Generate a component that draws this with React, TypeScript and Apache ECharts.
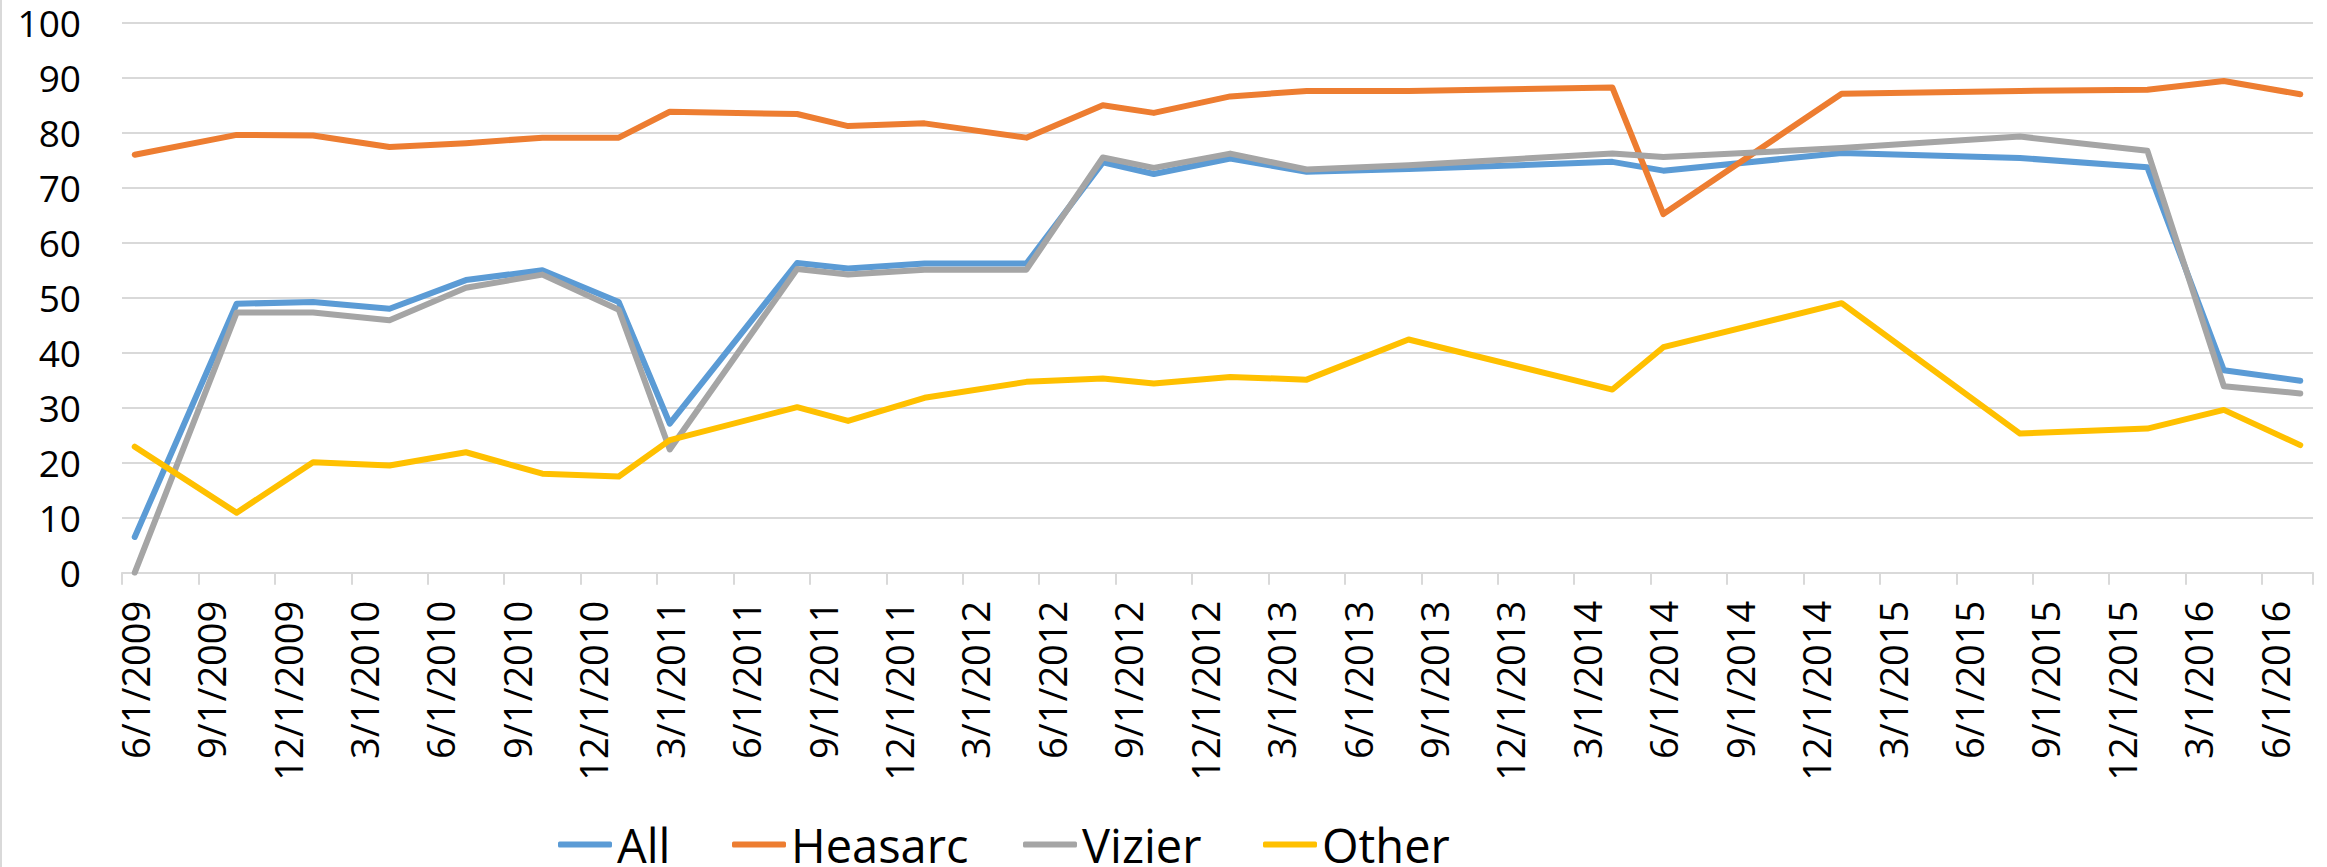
import React, { useEffect, useRef } from "react";
import * as echarts from "echarts";

// Month slots on the date axis (base unit: months), 6/2009 .. 7/2016
const AXIS_START_YEAR = 2009;
const AXIS_START_MONTH = 6;
const AXIS_MONTHS = 86;
const categories: string[] = [];
for (let i = 0; i < AXIS_MONTHS; i++) {
  const k = AXIS_START_MONTH - 1 + i;
  categories.push(`${(k % 12) + 1}/1/${AXIS_START_YEAR + Math.floor(k / 12)}`);
}

// Observation dates
const dates = [
  "6/1/2009", "10/1/2009", "1/1/2010", "4/1/2010", "7/1/2010", "10/1/2010",
  "1/1/2011", "3/1/2011", "8/1/2011", "10/1/2011", "1/1/2012", "5/1/2012",
  "8/1/2012", "10/1/2012", "1/1/2013", "4/1/2013", "8/1/2013", "4/1/2014",
  "6/1/2014", "1/1/2015", "8/1/2015", "1/1/2016", "4/1/2016", "7/1/2016",
];

const allValues = [
  6.5, 48.9, 49.2, 48.0, 53.2, 55.0, 49.2, 27.1, 56.3, 55.3, 56.2, 56.2,
  74.6, 72.5, 75.3, 72.9, 73.4, 74.7, 73.1, 76.3, 75.4, 73.7, 36.8, 34.9,
];
const heasarcValues = [
  76.0, 79.6, 79.5, 77.4, 78.1, 79.1, 79.1, 83.8, 83.4, 81.2, 81.7, 79.1,
  85.0, 83.6, 86.6, 87.6, 87.6, 88.2, 65.2, 87.1, 87.6, 87.8, 89.4, 87.0,
];
const vizierValues = [
  0, 47.3, 47.3, 45.9, 51.8, 54.2, 47.8, 22.4, 55.2, 54.2, 55.1, 55.1,
  75.5, 73.6, 76.2, 73.3, 74.1, 76.2, 75.6, 77.2, 79.3, 76.7, 33.9, 32.6,
];
const otherValues = [
  22.9, 10.9, 20.1, 19.5, 21.9, 18.0, 17.5, 24.1, 30.1, 27.6, 31.8, 34.7,
  35.3, 34.4, 35.6, 35.1, 42.4, 33.3, 41.0, 49.0, 25.3, 26.2, 29.6, 23.2,
];

const seriesNames = ["All", "Heasarc", "Vizier", "Other"];
const seriesValues = [allValues, heasarcValues, vizierValues, otherValues];
const seriesColors = ["#5B9BD5", "#ED7D31", "#A5A5A5", "#FFC000"];
const legendLefts = [558, 732, 1023, 1263];

export default function App() {
  const ref = useRef<HTMLDivElement>(null);

  useEffect(() => {
    if (!ref.current) return;
    const chart = echarts.init(ref.current, undefined, { renderer: "svg" });
    const grid = "#d9d9d9";
    const font = "'Open Sans', 'Noto Sans', sans-serif";

    chart.setOption({
      animation: false,
      backgroundColor: "#ffffff",
      grid: { left: 122, right: 14, top: 22.7, bottom: 294.3, containLabel: false },
      legend: seriesNames.map((name, i) => ({
        data: [name],
        left: legendLefts[i],
        top: 821,
        padding: 0,
        icon: "roundRect",
        itemWidth: 54,
        itemHeight: 6,
        selectedMode: false,
        textStyle: {
          fontFamily: font,
          fontSize: 47,
          lineHeight: 44,
          color: "#000000",
        },
      })),
      xAxis: {
        type: "category",
        data: categories,
        boundaryGap: true,
        axisLine: { lineStyle: { color: grid, width: 2 } },
        axisTick: { show: true, interval: 2, length: 12, lineStyle: { color: grid, width: 2 } },
        axisLabel: {
          interval: 2,
          rotate: 90,
          margin: 28,
          fontFamily: font,
          fontSize: 38,
          color: "#000000",
        },
        splitLine: { show: false },
      },
      yAxis: {
        type: "value",
        min: 0,
        max: 100,
        interval: 10,
        axisLine: { show: false },
        axisTick: { show: false },
        axisLabel: {
          margin: 41,
          fontFamily: font,
          fontSize: 37,
          color: "#000000",
        },
        splitLine: { lineStyle: { color: grid, width: 2 } },
      },
      graphic: [
        {
          type: "line",
          shape: { x1: 1, y1: 0, x2: 1, y2: 867 },
          style: { stroke: grid, lineWidth: 2 },
          silent: true,
        },
      ],
      series: seriesNames.map((name, i) => ({
        name,
        type: "line",
        symbol: "none",
        color: seriesColors[i],
        lineStyle: { width: 6, color: seriesColors[i], cap: "round", join: "round" },
        data: dates.map((d, j) => [d, seriesValues[i][j]]),
      })),
    });
    return () => chart.dispose();
  }, []);

  return (
    <div
      ref={ref}
      style={{ position: "absolute", left: 0, top: 0, width: 2327, height: 867, background: "#fff" }}
    />
  );
}
